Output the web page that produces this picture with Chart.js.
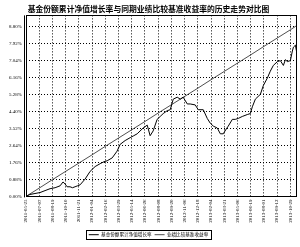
<!DOCTYPE html>
<html>
<head>
    <title>历史走势对比图</title>
    <script src="https://cdn.jsdelivr.net/npm/chart.js"></script>
    <style>
        body { margin: 0; background: #fff; }
        #wrap { width: 300px; height: 247px; }
    </style>
</head>
<body>
    <div id="wrap"><canvas id="myChart"></canvas></div>
    <script>
        // tick labels
        const dates = ['2011-05-25', '2011-07-07', '2011-08-19', '2011-10-10', '2011-11-21', '2012-01-04',
            '2012-02-16', '2012-03-29', '2012-05-14', '2012-06-26', '2012-08-08', '2012-09-20',
            '2012-11-06', '2012-12-18', '2013-02-04', '2013-03-21', '2013-05-06', '2013-06-19',
            '2013-08-01', '2013-09-12', '2013-10-29'];
        const yTicks = [0, 0.88, 1.76, 2.64, 3.52, 4.40, 5.28, 6.16, 7.04, 7.92, 8.80];

        // x is measured in tick steps, y in %
        const fundX = [0, 0.30, 0.68, 1.06, 1.44, 1.82, 2.20, 2.58, 2.80, 2.95, 3.11, 3.33, 3.52, 3.71, 3.90, 4.09,
            4.47, 4.85, 5.23, 5.61, 5.90, 6.14, 6.52, 6.89, 7.12, 7.50, 7.88, 8.15, 8.41, 8.86, 9.17, 9.39,
            9.62, 9.92, 10.15, 10.38, 10.68, 10.91, 11.14, 11.44, 11.67, 11.89, 12.20, 12.42, 12.80, 13.03,
            13.41, 13.71, 13.94, 14.17, 14.47, 14.70, 14.92, 15.15, 15.30, 15.61, 15.83, 16.06, 16.36, 16.74,
            16.97, 17.12, 17.35, 17.73, 17.95, 18.26, 18.48, 18.71, 19.02, 19.24, 19.47, 19.62, 19.77, 20.00,
            20.15, 20.23, 20.38, 20.50];
        const fundY = [0, 0.10, 0.15, 0.20, 0.30, 0.40, 0.45, 0.55, 0.75, 0.65, 0.50, 0.50, 0.45, 0.50, 0.55, 0.60,
            0.90, 1.30, 1.55, 1.70, 1.80, 1.85, 2.00, 2.35, 2.70, 2.90, 3.05, 3.15, 3.25, 3.55, 3.70, 3.15,
            3.40, 4.00, 4.15, 4.30, 4.45, 4.50, 5.05, 5.15, 5.05, 5.15, 4.80, 4.80, 4.75, 4.50,
            4.50, 4.05, 3.80, 3.65, 3.55, 3.25, 3.25, 3.50, 3.65, 4.00, 4.00, 4.05, 4.15, 4.25,
            4.30, 4.65, 5.05, 5.30, 5.75, 6.15, 6.50, 6.80, 7.00, 7.05, 6.80, 7.10, 7.00, 7.05,
            7.55, 7.75, 7.85, 7.40];
        const benchX = [0, 1, 2, 3, 4, 5, 6, 7, 8, 9, 10, 11, 12, 13, 14, 15, 16, 17, 18, 19, 20, 20.5];
        const benchY = [0, 0.43, 0.87, 1.30, 1.73, 2.16, 2.60, 3.03, 3.46, 3.89, 4.33, 4.76, 5.19, 5.62,
            6.06, 6.49, 6.92, 7.35, 7.79, 8.22, 8.65, 8.88];

        const FONT = "'Liberation Serif', 'Noto Sans CJK SC', serif";

        // double left axis line, frame and legend box
        const frame = {
            id: 'frame',
            afterDraw(chart) {
                const { ctx, chartArea: a } = chart;
                ctx.save();
                ctx.strokeStyle = '#000';
                ctx.lineWidth = 1;
                ctx.strokeRect(Math.round(a.left) + 0.5, Math.round(a.top) + 0.5,
                    Math.round(a.right - a.left) - 1, Math.round(a.bottom - a.top));
                ctx.beginPath();
                ctx.moveTo(Math.round(a.left) - 1.5, a.top);
                ctx.lineTo(Math.round(a.left) - 1.5, a.bottom + 1);
                ctx.stroke();
                const boxes = chart.legend.legendHitBoxes;
                if (boxes && boxes.length) {
                    const l = Math.min(...boxes.map(b => b.left)) - 3;
                    const r = Math.max(...boxes.map(b => b.left + b.width)) + 3;
                    const t = Math.min(...boxes.map(b => b.top)) - 2;
                    const bt = Math.max(...boxes.map(b => b.top + b.height)) + 2;
                    ctx.strokeRect(Math.round(l) + 0.5, Math.round(t) + 0.5, Math.round(r - l), Math.round(bt - t));
                }
                ctx.restore();
            }
        };

        const ctx = document.getElementById('myChart').getContext('2d');
        new Chart(ctx, {
            type: 'line',
            data: {
                datasets: [{
                    label: '基金份额累计净值增长率',
                    data: fundX.map((x, i) => ({ x, y: fundY[i] })),
                    borderColor: '#000',
                    borderWidth: 1,
                    pointRadius: 0,
                    pointStyle: 'line',
                    tension: 0
                }, {
                    label: '业绩比较基准收益率',
                    data: benchX.map((x, i) => ({ x, y: benchY[i] })),
                    borderColor: '#222',
                    borderWidth: 0.8,
                    pointRadius: 0,
                    pointStyle: 'line',
                    tension: 0
                }]
            },
            options: {
                responsive: true,
                maintainAspectRatio: false,
                animation: false,
                layout: { padding: { left: 0, right: 3, top: 0, bottom: 0 } },
                plugins: {
                    title: {
                        display: true,
                        text: '基金份额累计净值增长率与同期业绩比较基准收益率的历史走势对比图',
                        color: '#000',
                        font: { family: "'Noto Sans CJK SC'", size: 7.8, weight: 'bold' },
                        padding: { top: 4, bottom: 2 }
                    },
                    legend: {
                        position: 'bottom',
                        labels: {
                            color: '#000',
                            font: { family: FONT, size: 4.6 },
                            usePointStyle: true,
                            pointStyleWidth: 10,
                            boxHeight: 5,
                            padding: 3
                        }
                    },
                    tooltip: { enabled: false }
                },
                scales: {
                    x: {
                        type: 'linear',
                        min: 0,
                        max: 20.5,
                        afterBuildTicks: s => { s.ticks = dates.map((d, i) => ({ value: i })); },
                        afterFit: s => { s.height = 33; },
                        grid: { color: '#000', lineWidth: 1, drawTicks: false },
                        border: { display: false, dash: [1, 2] },
                        ticks: {
                            autoSkip: false,
                            minRotation: 90,
                            maxRotation: 90,
                            padding: 3,
                            color: '#000',
                            font: { family: FONT, size: 5 },
                            callback: v => dates[v]
                        }
                    },
                    y: {
                        min: 0,
                        max: 9.4,
                        afterBuildTicks: s => { s.ticks = yTicks.map(v => ({ value: v })); },
                        afterFit: s => { s.width = 26; },
                        grid: { color: '#000', lineWidth: 1, drawTicks: false },
                        border: { display: false, dash: [1, 2] },
                        ticks: {
                            padding: 4,
                            color: '#000',
                            font: { family: FONT, size: 5 },
                            callback: v => v.toFixed(2) + '%'
                        }
                    }
                }
            },
            plugins: [frame]
        });
    </script>
</body>
</html>
